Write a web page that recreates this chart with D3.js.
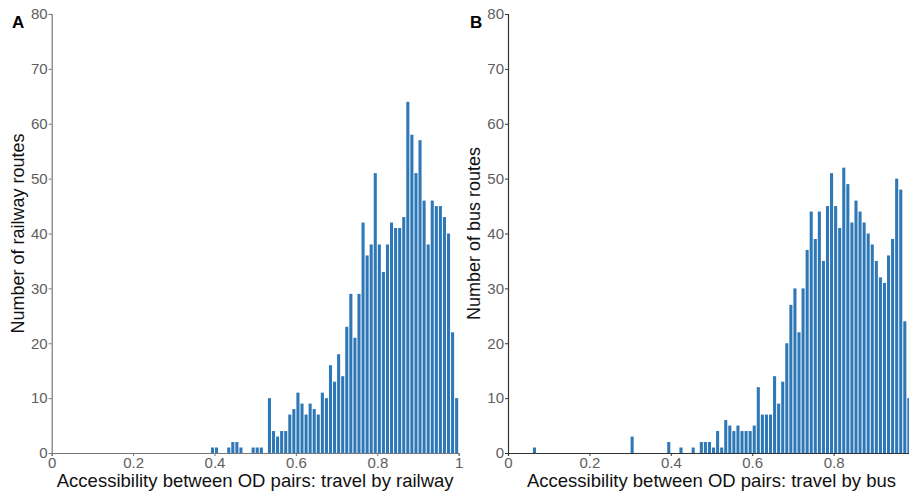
<!DOCTYPE html>
<html>
<head>
<meta charset="utf-8">
<script src="https://cdn.jsdelivr.net/npm/d3@7"></script>
<style>
  body { margin: 0; background: #fff; }
  svg { display: block; overflow: hidden; font-family: "Liberation Sans", Arial, sans-serif; }
</style>
</head>
<body>
<div id="chart"></div>
<script>
// histogram bins (left edge, width 0.01) and counts
const railBins = [0.39, 0.40, 0.43, 0.44, 0.45, 0.46, 0.49, 0.50, 0.51,
  0.53, 0.54, 0.55, 0.56, 0.57, 0.58, 0.59, 0.60, 0.61, 0.62, 0.63, 0.64, 0.65, 0.66,
  0.67, 0.68, 0.69, 0.70, 0.71, 0.72, 0.73, 0.74, 0.75, 0.76, 0.77, 0.78, 0.79, 0.80,
  0.81, 0.82, 0.83, 0.84, 0.85, 0.86, 0.87, 0.88, 0.89, 0.90, 0.91, 0.92, 0.93, 0.94,
  0.95, 0.96, 0.97, 0.98, 0.99];
const railCounts = [1, 1, 1, 2, 2, 1, 1, 1, 1,
  10, 4, 3, 4, 4, 7, 8, 11, 9, 7, 9, 8, 7, 11,
  10, 16, 13, 18, 14, 23, 29, 21, 29, 42, 36, 38, 51, 38,
  33, 38, 42, 41, 41, 43, 64, 58, 51, 57, 46, 38, 46, 45,
  45, 43, 40, 22, 10];

const busBins = [0.06, 0.30, 0.39, 0.42, 0.45, 0.47, 0.48, 0.49, 0.50, 0.51, 0.52,
  0.53, 0.54, 0.55, 0.56, 0.57, 0.58, 0.59, 0.60, 0.61, 0.62, 0.63, 0.64, 0.65, 0.66,
  0.67, 0.68, 0.69, 0.70, 0.71, 0.72, 0.73, 0.74, 0.75, 0.76, 0.77, 0.78, 0.79, 0.80,
  0.81, 0.82, 0.83, 0.84, 0.85, 0.86, 0.87, 0.88, 0.89, 0.90, 0.91, 0.92, 0.93, 0.94,
  0.95, 0.96, 0.97, 0.98];
const busCounts = [1, 3, 2, 1, 1, 2, 2, 2, 1, 4, 1,
  6, 5, 4, 5, 4, 4, 4, 5, 12, 7, 7, 7, 14, 9,
  13, 20, 27, 30, 22, 30, 37, 44, 39, 44, 35, 45, 51, 45,
  41, 52, 49, 42, 46, 44, 42, 40, 38, 35, 32, 31, 36, 39,
  50, 48, 24, 10];

const railXTicks = [0, 0.2, 0.4, 0.6, 0.8, 1];
const busXTicks = [0, 0.2, 0.4, 0.6, 0.8];
const yTicks = [0, 10, 20, 30, 40, 50, 60, 70, 80];
const binWidth = 0.01;

const width = 909;
const height = 494;
const barColor = "#2e78b7";

const svg = d3.select("#chart")
  .append("svg")
  .attr("width", width)
  .attr("height", height);

const y = d3.scaleLinear().domain([0, 80]).range([453, 14]);

const drawPanel = (opts) => {
  const x = d3.scaleLinear().domain([0, 1]).range([opts.left, opts.left + 407]);
  const g = svg.append("g");
  const data = opts.bins.map((b, i) => ({ bin: b, count: opts.counts[i] }));

  g.selectAll("rect")
    .data(data)
    .enter()
    .append("rect")
    .attr("fill", barColor)
    .attr("x", (d) => x(d.bin) + 0.5)
    .attr("y", (d) => y(d.count))
    .attr("width", (d) => x(d.bin + binWidth) - x(d.bin) - 1)
    .attr("height", (d) => y(0) - y(d.count));

  const xAxis = g.append("g")
    .attr("transform", `translate(0,${y(0)})`)
    .call(d3.axisBottom(x).tickValues(opts.xTicks).tickFormat(d3.format("~g")).tickSize(3).tickPadding(1));
  const yAxis = g.append("g")
    .attr("transform", `translate(${opts.left},0)`)
    .call(d3.axisLeft(y).tickValues(yTicks).tickSize(3).tickPadding(1));

  [xAxis, yAxis].forEach((a) => {
    a.select(".domain").attr("stroke", opts.axisColor).attr("stroke-width", 1.2);
    a.selectAll(".tick line").attr("stroke", opts.axisColor);
    a.selectAll(".tick text").attr("fill", "#5e5e5e").style("font-size", "15px");
  });

  g.append("text")
    .attr("x", x(0.5))
    .attr("y", 487)
    .attr("text-anchor", "middle")
    .style("font-size", "18.5px")
    .attr("fill", "#111")
    .text(opts.xTitle);

  g.append("text")
    .attr("transform", `translate(${opts.left - 28},${(y(0) + y(80)) / 2}) rotate(-90)`)
    .attr("text-anchor", "middle")
    .style("font-size", "18px")
    .attr("fill", "#111")
    .text(opts.yTitle);

  g.append("text")
    .attr("x", opts.tagX)
    .attr("y", 28)
    .style("font-size", "17px")
    .style("font-weight", "bold")
    .attr("fill", "#000")
    .text(opts.tag);
};

drawPanel({
  left: 51.7, bins: railBins, counts: railCounts, axisColor: "#777", xTicks: railXTicks,
  xTitle: "Accessibility between OD pairs: travel by railway",
  yTitle: "Number of railway routes", tag: "A", tagX: 12
});
drawPanel({
  left: 508, bins: busBins, counts: busCounts, axisColor: "#333", xTicks: busXTicks,
  xTitle: "Accessibility between OD pairs: travel by bus",
  yTitle: "Number of bus routes", tag: "B", tagX: 470
});
</script>
</body>
</html>
